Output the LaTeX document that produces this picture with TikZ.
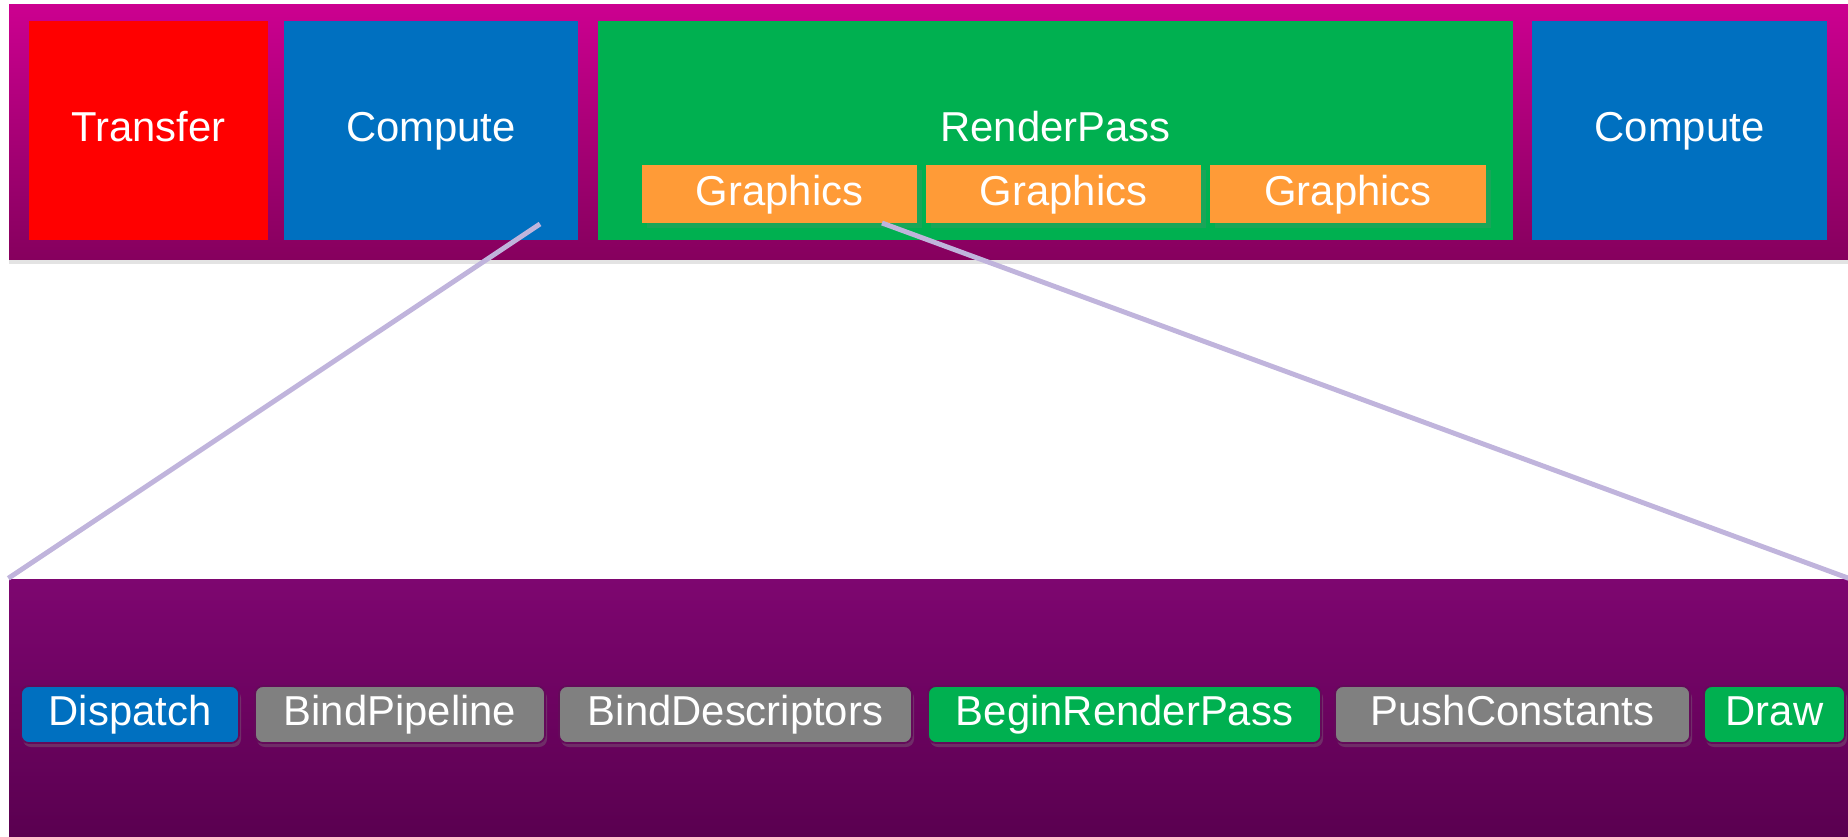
\documentclass[tikz,border=0pt]{standalone}
\usepackage{fontspec}
\setmainfont{Liberation Sans}
\usetikzlibrary{shadows}

\definecolor{barTop}{RGB}{204,0,144}
\definecolor{barBottom}{RGB}{134,0,94}
\definecolor{cmdTop}{RGB}{126,6,112}
\definecolor{cmdBottom}{RGB}{90,0,80}
\definecolor{xferRed}{RGB}{255,0,0}
\definecolor{compBlue}{RGB}{0,112,192}
\definecolor{passGreen}{RGB}{0,176,80}
\definecolor{gfxOrange}{RGB}{255,155,55}
\definecolor{cmdGrey}{RGB}{128,128,128}
\definecolor{cmdEdge}{RGB}{100,10,90}
\definecolor{zoomLine}{RGB}{192,180,220}

\tikzset{
  passbox/.style={rectangle, inner sep=0pt, outer sep=0pt, text=white,
    text height=0.79em, text depth=0.14em,
    font=\fontsize{11.9}{14}\selectfont},
  cmdpill/.style={passbox, rounded corners=0.08cm, draw=cmdEdge, line width=0.5pt,
    minimum height=0.57cm,
    drop shadow={shadow xshift=0.02cm, shadow yshift=-0.04cm, opacity=0.35}},
  zoomline/.style={draw=zoomLine, line width=1.4pt},
}

\begin{document}
\begin{tikzpicture}
\useasboundingbox (0,0) rectangle (18.48,8.36);

% Queue bar with the passes
\node[rectangle, inner sep=0pt, minimum width=18.39cm, minimum height=2.55cm,
  top color=barTop, bottom color=barBottom,
  drop shadow={shadow xshift=0cm, shadow yshift=-0.05cm, opacity=0.22}]
  (queue) at (9.285, 7.045) {};

\node[passbox, fill=xferRed, minimum width=2.39cm, minimum height=2.19cm] (transfer) at (1.485, 7.055) {Transfer};
\node[passbox, fill=compBlue, minimum width=2.94cm, minimum height=2.19cm] (compA) at (4.31, 7.055) {Compute};
\node[passbox, fill=passGreen, minimum width=9.15cm, minimum height=2.19cm] (renderpass) at (10.555, 7.055) {RenderPass};
\node[passbox, fill=compBlue, minimum width=2.95cm, minimum height=2.19cm] (compB) at (16.795, 7.055) {Compute};

% Graphics subpasses
\node[passbox, fill=gfxOrange, minimum width=2.75cm, minimum height=0.58cm,
  drop shadow={shadow xshift=0.05cm, shadow yshift=-0.05cm, opacity=0.2}] (gfxA) at (7.795, 6.42) {Graphics};
\node[passbox, fill=gfxOrange, minimum width=2.75cm, minimum height=0.58cm,
  drop shadow={shadow xshift=0.05cm, shadow yshift=-0.05cm, opacity=0.2}] (gfxB) at (10.635, 6.42) {Graphics};
\node[passbox, fill=gfxOrange, minimum width=2.76cm, minimum height=0.58cm,
  drop shadow={shadow xshift=0.05cm, shadow yshift=-0.05cm, opacity=0.2}] (gfxC) at (13.48, 6.42) {Graphics};

% Command buffer bar
\node[rectangle, inner sep=0pt, minimum width=18.39cm, minimum height=2.57cm,
  top color=cmdTop, bottom color=cmdBottom] (cmdbuf) at (9.285, 1.285) {};

\node[cmdpill, fill=compBlue, minimum width=2.18cm] (dispatch) at (1.30, 1.215) {Dispatch};
\node[cmdpill, fill=cmdGrey, minimum width=2.90cm] (bindpipe) at (4.00, 1.215) {BindPipeline};
\node[cmdpill, fill=cmdGrey, minimum width=3.53cm] (binddesc) at (7.355, 1.215) {BindDescriptors};
\node[cmdpill, fill=passGreen, minimum width=3.93cm] (beginrp) at (11.245, 1.215) {BeginRenderPass};
\node[cmdpill, fill=cmdGrey, minimum width=3.55cm] (pushconst) at (15.125, 1.215) {PushConstants};
\node[cmdpill, fill=passGreen, minimum width=1.41cm] (draw) at (17.745, 1.215) {Draw};

% Zoom lines
\coordinate (compFoot) at (5.40, 6.12);
\coordinate (gfxFoot) at (8.82, 6.13);
\draw[zoomline] (compFoot) -- (cmdbuf.north west);
\draw[zoomline] (gfxFoot) -- (cmdbuf.north east);
\end{tikzpicture}
\end{document}
